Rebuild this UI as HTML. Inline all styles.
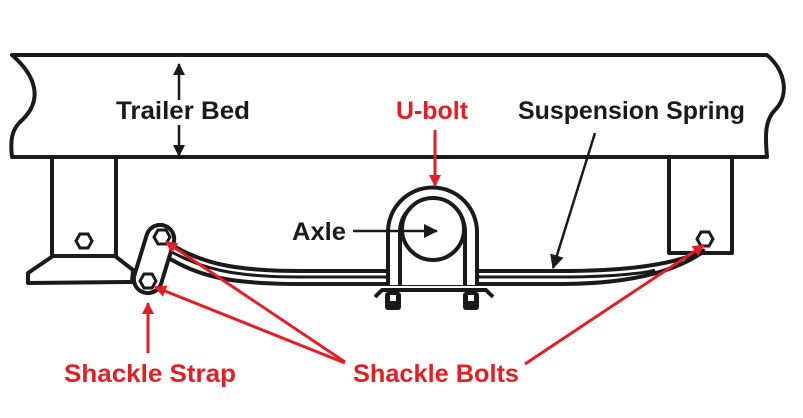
<!DOCTYPE html>
<html><head><meta charset="utf-8"><style>
html,body{margin:0;padding:0;background:#fff;}
svg{display:block;}
text{font-family:"Liberation Sans",sans-serif;font-weight:bold;font-size:25px;}
</style></head><body>
<svg width="803" height="418" viewBox="0 0 803 418" xmlns="http://www.w3.org/2000/svg">
<defs>
<marker id="ab" markerWidth="12" markerHeight="12" refX="11" refY="6" orient="auto" markerUnits="userSpaceOnUse"><path d="M0,0 L12,6 L0,12 z" fill="#1a1a1a"/></marker>
<marker id="ar" markerWidth="12" markerHeight="12" refX="11" refY="6" orient="auto" markerUnits="userSpaceOnUse"><path d="M0,0 L12,6 L0,12 z" fill="#e31e24"/></marker>
<marker id="ab2" markerWidth="14" markerHeight="14" refX="13" refY="7" orient="auto" markerUnits="userSpaceOnUse"><path d="M0,0 L14,7 L0,14 z" fill="#1a1a1a"/></marker>
</defs>
<g fill="none" stroke="#1a1a1a" stroke-width="4" stroke-linejoin="round">
<path d="M12,55 L767,55 C785,70 790,95 775,110 C765,120 765,135 767,157 L12,157 C10,140 12,130 20,122 C45,100 35,75 12,55 Z" fill="#fff"/>
<path d="M52,157 L52,256 L116,256 L116,157"/>
<path d="M53,256 L28,273 L28,283 L132,282 L133,270 L115,256"/>
<path d="M669,157 L669,253 L732,253 L732,157"/>
<path d="M170,244 C200,262 230,271 300,271 L560,271 C640,271 680,262 705,250"/>
<path d="M168,250 C200,268 230,277 300,277 L560,277 C620,277 650,272 655,270" stroke-width="3"/>
<path d="M165,256 C200,277 230,284 300,284 L560,284 C640,284 680,268 703,252"/>
<g transform="rotate(17 154 259)"><rect x="140" y="224" width="28" height="70" rx="14" fill="#fff"/></g>
<path d="M388,285 L388,232 A44.5,44.5 0 0 1 477,232 L477,285" fill="#fff"/>
<path d="M400,285 L400,232 A32.5,32.5 0 0 1 465,232 L465,285"/>
<circle cx="433" cy="229" r="31" fill="#fff"/>
<path d="M375,297 L382,290 L486,290 L493,297" stroke-width="4"/>
</g>
<g fill="#1a1a1a">
<rect x="385" y="292" width="16" height="18" rx="3"/>
<rect x="463" y="292" width="16" height="18" rx="3"/>
</g>
<g fill="#fff"><rect x="390" y="295" width="6" height="6"/><rect x="468" y="295" width="6" height="6"/></g>
<g fill="#fff" stroke="#1a1a1a" stroke-width="3">
<polygon points="76,241 80,234 88,234 92,241 88,248 80,248"/>
<polygon points="697,239 701,232 709,232 713,239 709,246 701,246"/>
<polygon points="154,237 158,230 166,230 170,237 166,244 158,244"/>
<polygon points="140,281 144,274 152,274 156,281 152,288 144,288"/>
</g>
<g stroke="#1a1a1a" stroke-width="2.5" fill="none">
<line x1="179" y1="100" x2="179" y2="64" marker-end="url(#ab)"/>
<line x1="179" y1="125" x2="179" y2="156" marker-end="url(#ab)"/>
<line x1="595" y1="133" x2="553" y2="268" marker-end="url(#ab2)"/>
<line x1="353" y1="231" x2="437" y2="231" marker-end="url(#ab2)"/>
</g>
<g stroke="#e31e24" stroke-width="3" fill="none">
<line x1="435" y1="130" x2="435" y2="186" marker-end="url(#ar)"/>
<line x1="148" y1="353" x2="148" y2="303" marker-end="url(#ar)"/>
<line x1="345" y1="362" x2="166" y2="242" marker-end="url(#ar)"/>
<line x1="345" y1="363" x2="155" y2="287" marker-end="url(#ar)"/>
<line x1="525" y1="364" x2="704" y2="245" marker-end="url(#ar)"/>
</g>
<text x="116" y="119" fill="#1a1a1a" textLength="134" lengthAdjust="spacingAndGlyphs">Trailer Bed</text>
<text x="396" y="119" fill="#e31e24" textLength="72" lengthAdjust="spacingAndGlyphs">U-bolt</text>
<text x="518" y="119" fill="#1a1a1a" textLength="227" lengthAdjust="spacingAndGlyphs">Suspension Spring</text>
<text x="292" y="240" fill="#1a1a1a" textLength="54" lengthAdjust="spacingAndGlyphs">Axle</text>
<text x="64" y="382" fill="#e31e24" textLength="172" lengthAdjust="spacingAndGlyphs">Shackle Strap</text>
<text x="353" y="382" fill="#e31e24" textLength="166" lengthAdjust="spacingAndGlyphs">Shackle Bolts</text>
</svg>
</body></html>
